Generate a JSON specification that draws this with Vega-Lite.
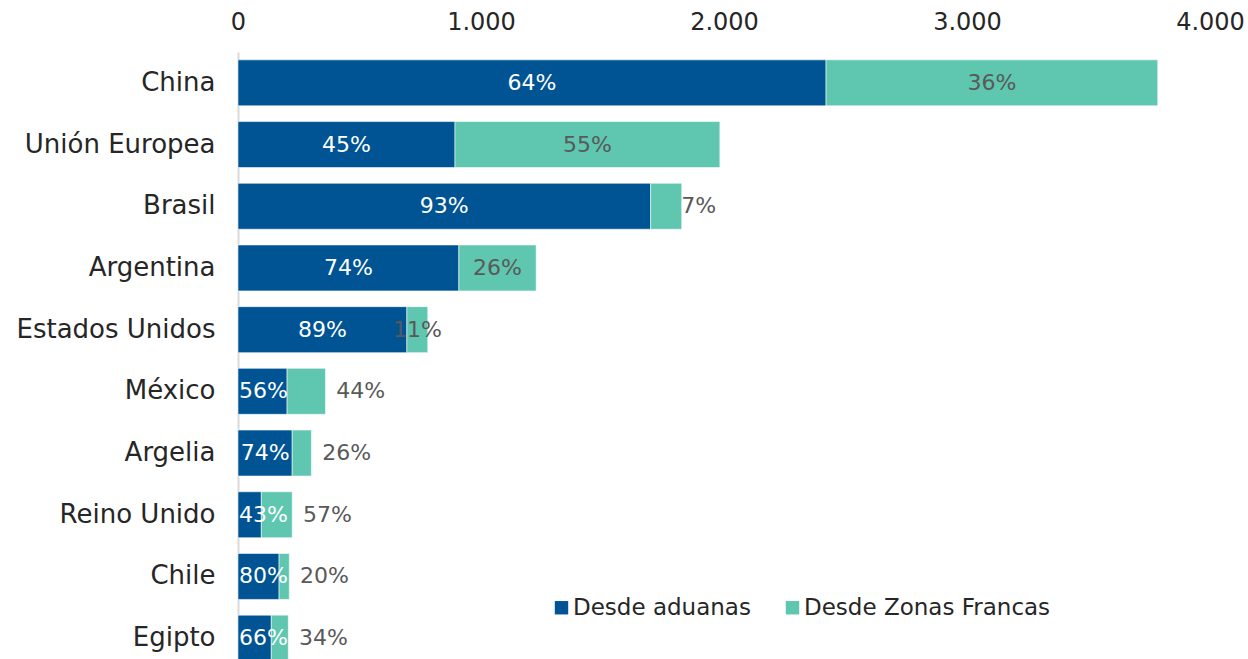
{
  "$schema": "https://vega.github.io/schema/vega-lite/v6.json",
  "autosize": "none",
  "width": 972,
  "height": 617,
  "padding": {"left": 238, "top": 52, "right": 38, "bottom": 0},
  "background": "white",
  "config": {
    "view": {"stroke": null},
    "font": "DejaVu Sans",
    "text": {"font": "DejaVu Sans"}
  },
  "data": {
    "values": [
      {"pais": "China", "tipo": "Desde aduanas", "orden": 1, "valor": 2420},
      {"pais": "China", "tipo": "Desde Zonas Francas", "orden": 2, "valor": 1365},
      {"pais": "Unión Europea", "tipo": "Desde aduanas", "orden": 1, "valor": 893},
      {"pais": "Unión Europea", "tipo": "Desde Zonas Francas", "orden": 2, "valor": 1090},
      {"pais": "Brasil", "tipo": "Desde aduanas", "orden": 1, "valor": 1698},
      {"pais": "Brasil", "tipo": "Desde Zonas Francas", "orden": 2, "valor": 128},
      {"pais": "Argentina", "tipo": "Desde aduanas", "orden": 1, "valor": 909},
      {"pais": "Argentina", "tipo": "Desde Zonas Francas", "orden": 2, "valor": 318},
      {"pais": "Estados Unidos", "tipo": "Desde aduanas", "orden": 1, "valor": 695},
      {"pais": "Estados Unidos", "tipo": "Desde Zonas Francas", "orden": 2, "valor": 86},
      {"pais": "México", "tipo": "Desde aduanas", "orden": 1, "valor": 202},
      {"pais": "México", "tipo": "Desde Zonas Francas", "orden": 2, "valor": 158},
      {"pais": "Argelia", "tipo": "Desde aduanas", "orden": 1, "valor": 223},
      {"pais": "Argelia", "tipo": "Desde Zonas Francas", "orden": 2, "valor": 79},
      {"pais": "Reino Unido", "tipo": "Desde aduanas", "orden": 1, "valor": 96},
      {"pais": "Reino Unido", "tipo": "Desde Zonas Francas", "orden": 2, "valor": 127},
      {"pais": "Chile", "tipo": "Desde aduanas", "orden": 1, "valor": 169},
      {"pais": "Chile", "tipo": "Desde Zonas Francas", "orden": 2, "valor": 42},
      {"pais": "Egipto", "tipo": "Desde aduanas", "orden": 1, "valor": 137},
      {"pais": "Egipto", "tipo": "Desde Zonas Francas", "orden": 2, "valor": 70}
    ]
  },
  "transform": [
    {"joinaggregate": [{"op": "sum", "field": "valor", "as": "total"}], "groupby": ["pais"]},
    {"calculate": "datum.valor / datum.total", "as": "pct"},
    {"stack": "valor", "groupby": ["pais"], "sort": [{"field": "orden", "order": "ascending"}], "as": ["x0", "x1"]},
    {"calculate": "(datum.x0 + datum.x1) / 2", "as": "mid"},
    {"calculate": "datum.orden == 1 ? max(datum.mid, 105) : (datum.x0 < 300 ? datum.x1 + 145 : (datum.x1 - datum.x0 > 100 && datum.x1 - datum.x0 < 150 ? datum.x1 + 70 : datum.mid))", "as": "labx"}
  ],
  "encoding": {
    "y": {
      "field": "pais",
      "type": "nominal",
      "sort": ["China", "Unión Europea", "Brasil", "Argentina", "Estados Unidos", "México", "Argelia", "Reino Unido", "Chile", "Egipto"],
      "scale": {"paddingInner": 0.255, "paddingOuter": 0.1275},
      "axis": {
        "title": null,
        "ticks": false,
        "domain": true,
        "domainColor": "#d9d9d9",
        "domainWidth": 2,
        "labelFontSize": 26,
        "labelColor": "#262626",
        "labelPadding": 23,
        "labelLimit": 400,
        "labelFont": "DejaVu Sans"
      }
    }
  },
  "layer": [
    {
      "mark": {"type": "bar", "stroke": "#ffffff", "strokeWidth": 0.7, "strokeOpacity": 0.8},
      "encoding": {
        "x": {
          "field": "x0",
          "type": "quantitative",
          "scale": {"domain": [0, 4000], "nice": false},
          "axis": {
            "orient": "top",
            "title": null,
            "values": [0, 1000, 2000, 3000, 4000],
            "format": ",.0f",
            "labelExpr": "replace(datum.label, ',', '.')",
            "ticks": false,
            "domain": false,
            "grid": false,
            "labelFontSize": 24,
            "labelColor": "#262626",
            "labelPadding": 18,
            "labelFont": "DejaVu Sans",
            "labelFlush": false
          }
        },
        "x2": {"field": "x1"},
        "color": {
          "field": "tipo",
          "type": "nominal",
          "scale": {"domain": ["Desde aduanas", "Desde Zonas Francas"], "range": ["#005493", "#5fc6b0"]},
          "legend": {
            "title": null,
            "orient": "none",
            "direction": "horizontal",
            "legendX": 312,
            "legendY": 544,
            "symbolType": "square",
            "symbolSize": 180,
            "symbolStrokeWidth": 0,
            "symbolOpacity": 1,
            "labelFontSize": 23,
            "labelColor": "#262626",
            "labelFont": "DejaVu Sans",
            "labelOffset": 0,
            "labelLimit": 400,
            "columnPadding": 30
          }
        }
      }
    },
    {
      "mark": {"type": "text", "fontSize": 22, "baseline": "middle", "align": "center", "font": "DejaVu Sans"},
      "encoding": {
        "x": {"field": "labx", "type": "quantitative"},
        "text": {"field": "pct", "type": "quantitative", "format": ".0%"},
        "color": {
          "condition": {"test": "datum.orden == 1", "value": "#ffffff"},
          "value": "#595959"
        }
      }
    }
  ]
}
